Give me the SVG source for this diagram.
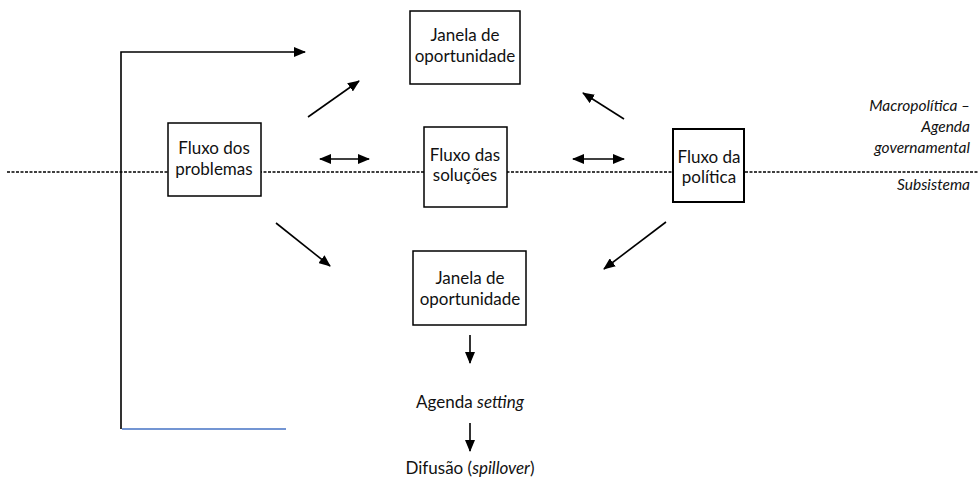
<svg xmlns="http://www.w3.org/2000/svg" width="978" height="478" viewBox="0 0 978 478">
<defs>
<marker id="ah" markerUnits="userSpaceOnUse" markerWidth="12" markerHeight="10" refX="11" refY="5" orient="auto-start-reverse">
<path d="M0,0 L12,5 L0,10 z" fill="#000"/>
</marker>
<style>
.box{fill:#fff;stroke:#000;stroke-width:1.5}
.t{font-family:"Lato","Carlito","Open Sans",sans-serif;font-size:17px;fill:#111;text-anchor:middle}
.r{font-family:"Lato","Carlito","Open Sans",sans-serif;font-size:15.5px;font-style:italic;fill:#111;text-anchor:end}
.c{stroke:#000;stroke-width:1.6;fill:none}
.a{stroke:#000;stroke-width:1.6;fill:none;marker-end:url(#ah)}
.d{stroke:#000;stroke-width:1.6;fill:none;marker-start:url(#ah);marker-end:url(#ah)}
</style>
</defs>
<rect width="978" height="478" fill="#fff"/>
<line x1="7" y1="172" x2="978" y2="172" stroke="#000" stroke-width="1.6" stroke-dasharray="3,1.5"/>
<g id="connectors">
<polyline class="c" points="121,429 121,52 290,52"/>
<line class="a" x1="290" y1="52" x2="305" y2="52"/>
<line x1="122" y1="429" x2="286" y2="429" stroke="#4472C4" stroke-width="1.3"/>
<line class="a" x1="308" y1="117" x2="359" y2="81"/>
<line class="d" x1="320" y1="159" x2="369" y2="159"/>
<line class="d" x1="573" y1="159" x2="624" y2="159"/>
<line class="a" x1="624" y1="119" x2="583" y2="93"/>
<line class="a" x1="276" y1="223" x2="330" y2="266"/>
<line class="a" x1="666" y1="222" x2="604" y2="269"/>
<line class="a" x1="470" y1="335" x2="470" y2="363"/>
<line class="a" x1="470" y1="423" x2="470" y2="451"/>
</g>
<g id="janela-top">
<rect class="box" x="410" y="11" width="110" height="73"/>
<text class="t" x="465" y="41">Janela de</text>
<text class="t" x="465" y="62">oportunidade</text>
</g>
<g id="fluxo-problemas">
<rect class="box" x="168" y="123" width="93" height="73"/>
<text class="t" x="214" y="154">Fluxo dos</text>
<text class="t" x="214" y="175">problemas</text>
</g>
<g id="fluxo-solucoes">
<rect class="box" x="424" y="127" width="83" height="80"/>
<text class="t" x="465" y="161">Fluxo das</text>
<text class="t" x="465" y="181">soluções</text>
</g>
<g id="fluxo-politica">
<rect class="box" x="673" y="129" width="71" height="73" style="stroke-width:2"/>
<text class="t" x="709" y="163">Fluxo da</text>
<text class="t" x="709" y="183">política</text>
</g>
<g id="janela-bottom">
<rect class="box" x="413" y="251" width="113" height="74"/>
<text class="t" x="470" y="284">Janela de</text>
<text class="t" x="470" y="305">oportunidade</text>
</g>
<g id="agenda-setting">
<text class="t" x="470" y="408">Agenda <tspan font-style="italic">setting</tspan></text>
</g>
<g id="difusao">
<text class="t" x="470" y="474">Difusão (<tspan font-style="italic">spillover</tspan>)</text>
</g>
<g id="labels">
<text class="r" x="970" y="111">Macropolítica –</text>
<text class="r" x="970" y="132">Agenda</text>
<text class="r" x="970" y="153">governamental</text>
<text class="r" x="970" y="190">Subsistema</text>
</g>
</svg>
